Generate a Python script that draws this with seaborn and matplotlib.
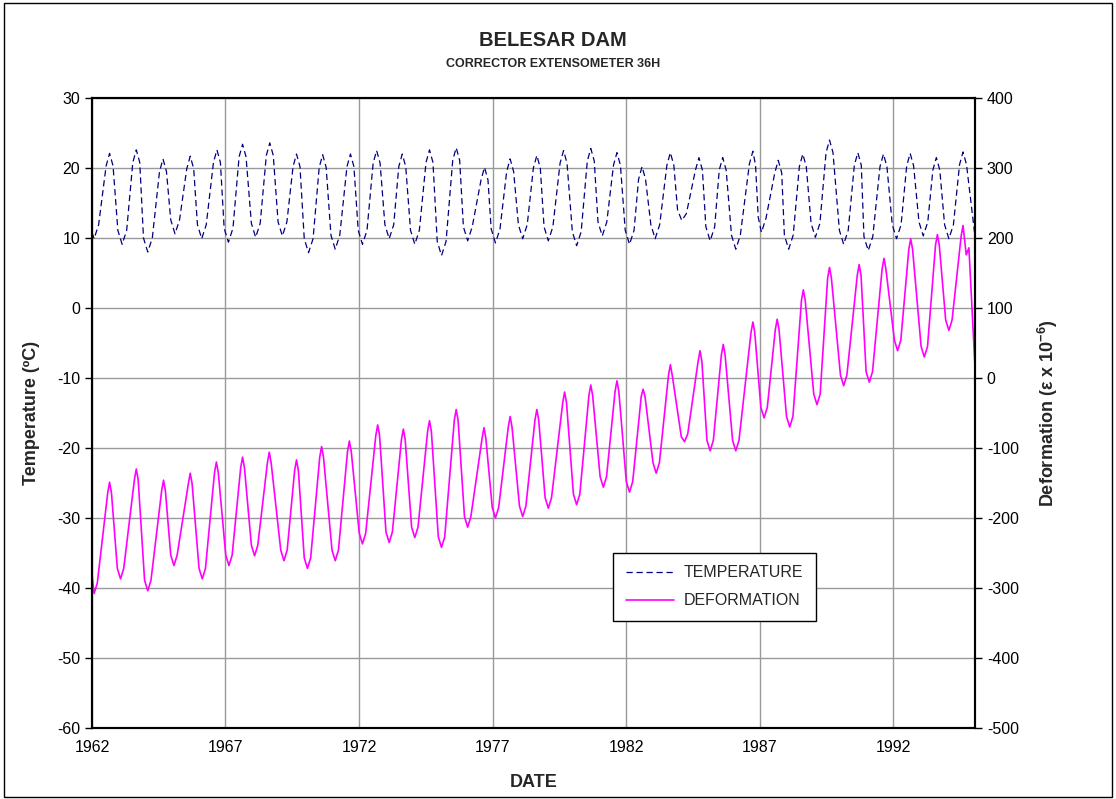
import matplotlib
matplotlib.use("Agg")
import matplotlib.pyplot as plt
import seaborn as sns
import pandas as pd
from matplotlib.patches import Rectangle

# values, in decimal years (six readings per season)
temp_year = [
    1962.00,
    1962.08, 1962.25, 1962.53, 1962.66, 1962.79, 1962.97,
    1963.13, 1963.30, 1963.53, 1963.66, 1963.79, 1963.93,
    1964.09, 1964.26, 1964.53, 1964.66, 1964.79, 1964.95,
    1965.11, 1965.28, 1965.55, 1965.68, 1965.81, 1965.95,
    1966.11, 1966.28, 1966.55, 1966.68, 1966.81, 1966.95,
    1967.11, 1967.28, 1967.51, 1967.64, 1967.77, 1967.97,
    1968.13, 1968.30, 1968.53, 1968.66, 1968.79, 1968.97,
    1969.13, 1969.30, 1969.53, 1969.66, 1969.79, 1969.95,
    1970.11, 1970.28, 1970.51, 1970.64, 1970.77, 1970.95,
    1971.11, 1971.28, 1971.55, 1971.68, 1971.81, 1971.97,
    1972.13, 1972.30, 1972.53, 1972.66, 1972.79, 1972.97,
    1973.13, 1973.30, 1973.49, 1973.62, 1973.75, 1973.93,
    1974.09, 1974.26, 1974.51, 1974.64, 1974.77, 1974.93,
    1975.09, 1975.26, 1975.51, 1975.64, 1975.77, 1975.91,
    1976.07, 1976.24, 1976.57, 1976.70, 1976.83, 1976.95,
    1977.11, 1977.28, 1977.53, 1977.66, 1977.79, 1977.97,
    1978.13, 1978.30, 1978.53, 1978.66, 1978.79, 1978.93,
    1979.09, 1979.26, 1979.53, 1979.66, 1979.79, 1979.99,
    1980.15, 1980.32, 1980.55, 1980.68, 1980.81, 1980.95,
    1981.11, 1981.28, 1981.53, 1981.66, 1981.79, 1981.97,
    1982.13, 1982.30, 1982.47, 1982.60, 1982.73, 1982.93,
    1983.09, 1983.26, 1983.53, 1983.66, 1983.79, 1983.93,
    1984.09, 1984.26, 1984.60, 1984.73, 1984.86, 1984.99,
    1985.15, 1985.32, 1985.49, 1985.62, 1985.75, 1985.95,
    1986.11, 1986.28, 1986.62, 1986.75, 1986.85, 1986.95,
    1987.07, 1987.24, 1987.57, 1987.70, 1987.83, 1987.93,
    1988.09, 1988.26, 1988.49, 1988.62, 1988.75, 1988.93,
    1989.09, 1989.26, 1989.49, 1989.62, 1989.75, 1989.99,
    1990.15, 1990.32, 1990.55, 1990.68, 1990.81, 1990.91,
    1991.07, 1991.24, 1991.51, 1991.64, 1991.77, 1991.97,
    1992.13, 1992.30, 1992.51, 1992.64, 1992.77, 1992.97,
    1993.13, 1993.30, 1993.49, 1993.62, 1993.75, 1993.93,
    1994.09, 1994.26, 1994.49, 1994.62, 1994.75,
    1995.05]
temp_value = [
    10.8,
    9.9, 11.9, 20.3, 22.1, 20.3, 11.1,
    9.1, 11.1, 20.8, 22.6, 20.8, 10.0,
    8.0, 10.0, 19.5, 21.3, 19.5, 12.6,
    10.6, 12.6, 19.9, 21.7, 19.9, 11.9,
    9.9, 11.9, 20.8, 22.6, 20.8, 11.4,
    9.4, 11.4, 21.6, 23.4, 21.6, 12.1,
    10.1, 12.1, 21.8, 23.6, 21.8, 12.3,
    10.3, 12.3, 20.2, 22.0, 20.2, 9.9,
    7.9, 9.9, 20.1, 21.9, 20.1, 10.4,
    8.4, 10.4, 20.2, 22.0, 20.2, 11.1,
    9.1, 11.1, 20.7, 22.5, 20.7, 11.9,
    9.9, 11.9, 20.2, 22.0, 20.2, 11.1,
    9.1, 11.1, 20.8, 22.6, 20.8, 9.5,
    7.5, 9.5, 21.1, 22.9, 21.1, 11.6,
    9.6, 11.6, 18.3, 20.1, 18.3, 11.3,
    9.3, 11.3, 19.5, 21.3, 19.5, 11.9,
    9.9, 11.9, 20.0, 21.8, 20.0, 11.6,
    9.6, 11.6, 20.7, 22.5, 20.7, 10.9,
    8.9, 10.9, 21.0, 22.8, 21.0, 12.3,
    10.3, 12.3, 20.4, 22.2, 20.4, 11.1,
    9.1, 11.1, 18.4, 20.2, 18.4, 11.9,
    9.9, 11.9, 20.4, 22.2, 20.4, 14.0,
    12.5, 13.5, 19.7, 21.5, 19.7, 11.6,
    9.6, 11.6, 19.7, 21.5, 19.7, 10.4,
    8.4, 10.4, 20.6, 22.4, 20.4, 13.0,
    10.8, 12.8, 19.3, 21.1, 19.3, 10.4,
    8.4, 10.4, 20.2, 22.0, 20.2, 12.1,
    10.1, 12.1, 22.2, 24.0, 22.2, 11.1,
    9.1, 11.1, 20.4, 22.2, 20.4, 10.2,
    8.2, 10.2, 20.2, 22.0, 20.2, 11.9,
    9.9, 11.9, 20.3, 22.1, 20.3, 12.3,
    10.3, 12.3, 19.7, 21.5, 19.7, 11.9,
    9.9, 11.9, 20.5, 22.3, 20.5,
    10.8]

defo_year = [
    1962.00,
    1962.08, 1962.20, 1962.59, 1962.66, 1962.73, 1962.95,
    1963.07, 1963.19, 1963.59, 1963.66, 1963.73, 1963.97,
    1964.09, 1964.21, 1964.61, 1964.68, 1964.75, 1964.95,
    1965.07, 1965.19, 1965.61, 1965.68, 1965.75, 1966.01,
    1966.13, 1966.25, 1966.59, 1966.66, 1966.73, 1967.01,
    1967.13, 1967.25, 1967.57, 1967.64, 1967.71, 1967.97,
    1968.09, 1968.21, 1968.57, 1968.64, 1968.71, 1969.07,
    1969.19, 1969.31, 1969.59, 1969.66, 1969.73, 1969.95,
    1970.07, 1970.19, 1970.53, 1970.60, 1970.67, 1970.99,
    1971.11, 1971.23, 1971.57, 1971.64, 1971.71, 1972.01,
    1972.13, 1972.25, 1972.63, 1972.70, 1972.77, 1973.01,
    1973.13, 1973.25, 1973.59, 1973.66, 1973.73, 1973.97,
    1974.09, 1974.21, 1974.57, 1974.64, 1974.71, 1974.97,
    1975.09, 1975.21, 1975.57, 1975.64, 1975.71, 1975.95,
    1976.07, 1976.19, 1976.61, 1976.68, 1976.75, 1976.99,
    1977.11, 1977.23, 1977.59, 1977.66, 1977.73, 1978.01,
    1978.13, 1978.25, 1978.59, 1978.66, 1978.73, 1978.97,
    1979.09, 1979.21, 1979.63, 1979.70, 1979.77, 1980.03,
    1980.15, 1980.27, 1980.61, 1980.68, 1980.75, 1981.03,
    1981.15, 1981.27, 1981.59, 1981.66, 1981.73, 1982.01,
    1982.13, 1982.25, 1982.57, 1982.64, 1982.71, 1983.01,
    1983.13, 1983.25, 1983.59, 1983.66, 1983.73, 1984.07,
    1984.19, 1984.31, 1984.70, 1984.77, 1984.84, 1985.03,
    1985.15, 1985.27, 1985.57, 1985.64, 1985.71, 1985.99,
    1986.11, 1986.23, 1986.68, 1986.75, 1986.82, 1987.05,
    1987.17, 1987.29, 1987.59, 1987.66, 1987.73, 1988.01,
    1988.13, 1988.25, 1988.57, 1988.64, 1988.71, 1989.03,
    1989.15, 1989.27, 1989.55, 1989.62, 1989.69, 1990.03,
    1990.15, 1990.27, 1990.66, 1990.73, 1990.80, 1990.99,
    1991.11, 1991.23, 1991.59, 1991.66, 1991.73, 1992.05,
    1992.17, 1992.29, 1992.59, 1992.66, 1992.73, 1993.05,
    1993.17, 1993.29, 1993.59, 1993.66, 1993.73, 1993.97,
    1994.09, 1994.21, 1994.55, 1994.62, 1994.74, 1994.84,
    1995.06]
defo_value = [
    -280,
    -308, -293, -164, -149, -164, -272,
    -287, -272, -145, -130, -145, -289,
    -304, -289, -161, -146, -161, -253,
    -268, -253, -151, -136, -151, -272,
    -287, -272, -135, -120, -135, -253,
    -268, -253, -128, -113, -128, -239,
    -254, -239, -121, -106, -121, -246,
    -261, -246, -132, -117, -132, -257,
    -272, -257, -113, -98, -113, -246,
    -261, -246, -105, -90, -105, -222,
    -237, -222, -82, -67, -82, -220,
    -235, -220, -88, -73, -88, -213,
    -228, -213, -76, -61, -76, -227,
    -242, -227, -60, -45, -60, -198,
    -213, -198, -86, -71, -86, -185,
    -200, -185, -70, -55, -70, -183,
    -198, -183, -60, -45, -60, -171,
    -186, -171, -35, -20, -35, -166,
    -181, -166, -25, -10, -25, -141,
    -156, -141, -19, -4, -19, -148,
    -163, -148, -26, -16, -26, -121,
    -136, -121, 4, 19, 4, -84,
    -91, -80, 24, 39, 24, -89,
    -104, -89, 33, 48, 33, -89,
    -104, -89, 65, 80, 65, -42,
    -57, -42, 69, 84, 69, -55,
    -70, -55, 111, 126, 111, -23,
    -38, -23, 143, 158, 143, 4,
    -11, 4, 147, 162, 147, 9,
    -6, 9, 156, 171, 156, 54,
    39, 54, 184, 199, 184, 45,
    30, 45, 190, 205, 190, 83,
    68, 83, 203, 218, 176, 186,
    22]

year_ticks = [1962, 1967, 1972, 1977, 1982, 1987, 1992]

temp_df = pd.DataFrame({"year": temp_year, "temp": temp_value})
defo_df = pd.DataFrame({"year": defo_year, "defo": defo_value})

sns.set_style("white")
plt.rcParams['font.family'] = ['Liberation Sans', 'DejaVu Sans']
plt.rcParams['axes.unicode_minus'] = False
plt.rcParams['mathtext.fontset'] = 'custom'
plt.rcParams['mathtext.rm'] = 'Liberation Sans'
plt.rcParams['mathtext.bf'] = 'Liberation Sans:bold'

fig = plt.figure(figsize=(11.16, 7.99), dpi=100)
ax = fig.add_axes([0.0824, 0.0889, 0.7913, 0.7884])
ax2 = ax.twinx()

sns.lineplot(data=temp_df, x="year", y="temp", ax=ax, color="#000080", lw=0.9,
             sort=False, estimator=None, label="TEMPERATURE", legend=False)
ax.lines[-1].set_dashes([5, 3])
sns.lineplot(data=defo_df, x="year", y="defo", ax=ax2, color="#FF00FF", lw=1.2,
             sort=False, estimator=None, label="DEFORMATION", legend=False)

ax.set_xlim(1962, 1995.07)
ax.set_ylim(-60, 30)
ax2.set_ylim(-500, 400)
ax.set_xticks(year_ticks)
ax.set_xticklabels([str(y) for y in year_ticks])
ax.set_yticks(range(-60, 31, 10))
ax2.set_yticks(range(-500, 401, 100))
ax.grid(True, color="#999999", lw=1)
ax2.grid(False)

for a in (ax, ax2):
    a.tick_params(direction="out", length=5, width=1, labelsize=11.5, colors="black")
    for s in a.spines.values():
        s.set_color("black")
        s.set_linewidth(1.5)

ax.set_xlabel("DATE", fontsize=13, fontweight="bold", labelpad=14)
ax.set_ylabel("Temperature (ºC)", fontsize=13, fontweight="bold", labelpad=12)
ax2.set_ylabel(r"Deformation (ε x 10$^{\mathbf{-6}}$)", fontsize=13, fontweight="bold",
               labelpad=12)

fig.text(0.4955, 0.949, "BELESAR DAM", ha="center", va="center", fontsize=14.5,
         fontweight="bold")
fig.text(0.4955, 0.920, "CORRECTOR EXTENSOMETER 36H", ha="center", va="center",
         fontsize=9, fontweight="bold")

handles = [ax.lines[0], ax2.lines[0]]
leg = ax2.legend(handles, ["TEMPERATURE", "DEFORMATION"], loc="lower left",
                 bbox_to_anchor=(0.590, 0.170), fancybox=False, framealpha=1,
                 edgecolor="black", fontsize=11.5, handlelength=3.0, borderpad=0.8,
                 labelspacing=0.8, borderaxespad=0, handletextpad=0.6)
leg.get_frame().set_linewidth(1)

fig.patches.append(Rectangle((0.004, 0.003), 0.992, 0.993, transform=fig.transFigure,
                             fill=False, edgecolor="black", lw=1))

fig.savefig("out.png", dpi=100)
